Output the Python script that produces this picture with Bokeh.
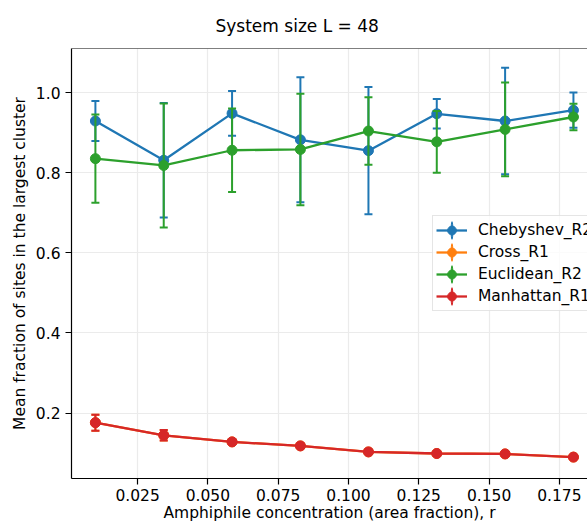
from bokeh.plotting import figure
from bokeh.models import Range1d, FixedTicker, Span, Legend, LegendItem, ColumnDataSource, PrintfTickFormatter
from bokeh.embed import file_html
from bokeh.resources import INLINE

# ---- data ----
conc = [0.0100, 0.0343, 0.0586, 0.0829, 0.1071, 0.1314, 0.1557, 0.1800]
series_names = ["Chebyshev_R2", "Cross_R1", "Euclidean_R2", "Manhattan_R1"]
cheb_mean = [0.929, 0.831, 0.948, 0.882, 0.855, 0.947, 0.929, 0.956]
cheb_err = [0.050, 0.143, 0.056, 0.156, 0.159, 0.037, 0.133, 0.044]
cross_mean = [0.176, 0.1445, 0.128, 0.118, 0.103, 0.099, 0.098, 0.090]
cross_err = [0.020, 0.013, 0.004, 0.004, 0.003, 0.003, 0.003, 0.003]
eucl_mean = [0.835, 0.818, 0.856, 0.858, 0.904, 0.877, 0.908, 0.939]
eucl_err = [0.110, 0.155, 0.104, 0.139, 0.084, 0.077, 0.117, 0.033]
manh_mean = [0.176, 0.1445, 0.128, 0.118, 0.103, 0.099, 0.098, 0.090]
manh_err = [0.020, 0.013, 0.004, 0.004, 0.003, 0.003, 0.003, 0.003]
x_ticks = [0.025, 0.050, 0.075, 0.100, 0.125, 0.150, 0.175]
y_ticks = [0.2, 0.4, 0.6, 0.8, 1.0]
title_text = "System size L = 48"
x_label = "Amphiphile concentration (area fraction), r"
y_label = "Mean fraction of sites in the largest cluster"

colors = ["#1f77b4", "#ff7f0e", "#2ca02c", "#d62728"]
means = [cheb_mean, cross_mean, eucl_mean, manh_mean]
errs = [cheb_err, cross_err, eucl_err, manh_err]

FONT = "DejaVu Sans"
X0, X1 = 0.0015, 0.1850
Y0, Y1 = 0.0366, 1.110

p = figure(width=587, height=525, output_backend="svg", toolbar_location=None,
           x_range=Range1d(X0, X1), y_range=Range1d(Y0, Y1),
           min_border_left=71, min_border_right=0, min_border_top=48, min_border_bottom=47)
p.outline_line_color = None
p.background_fill_color = "white"
p.border_fill_color = "white"

p.title.text = title_text
p.title.align = "left"
p.title.offset = 144
p.title.text_font = FONT
p.title.text_font_size = "17px"
p.title.text_font_style = "normal"
p.title.text_color = "black"
p.title.vertical_align = "middle"
p.title.standoff = 24

for ax in (p.xaxis[0], p.yaxis[0]):
    ax.axis_line_color = "black"
    ax.axis_line_width = 1.2
    ax.major_tick_line_color = "black"
    ax.major_tick_line_width = 1.2
    ax.major_tick_out = 6
    ax.major_tick_in = 0
    ax.minor_tick_line_color = None
    ax.major_label_text_font = FONT
    ax.major_label_text_font_size = "15.5px"
    ax.major_label_text_color = "black"
    ax.major_label_standoff = 5
    ax.axis_label_text_font = FONT
    ax.axis_label_text_font_size = "15.5px"
    ax.axis_label_text_font_style = "normal"
    ax.axis_label_text_color = "black"

p.xaxis[0].ticker = FixedTicker(ticks=x_ticks)
p.xaxis[0].formatter = PrintfTickFormatter(format="%.3f")
p.xaxis[0].axis_label = x_label
p.xaxis[0].axis_label_standoff = 0
p.xaxis[0].major_label_standoff = 4
p.yaxis[0].ticker = FixedTicker(ticks=y_ticks)
p.yaxis[0].formatter = PrintfTickFormatter(format="%.1f")
p.yaxis[0].axis_label = y_label
p.yaxis[0].axis_label_standoff = 4

p.grid.grid_line_color = "#ebebeb"
p.grid.grid_line_width = 1.2

# top spine
p.add_layout(Span(location=Y1, dimension="width", line_color="black", line_width=1.2))

items = []
for name, c, m, e in zip(series_names, colors, means, errs):
    lo = [a - b for a, b in zip(m, e)]
    hi = [a + b for a, b in zip(m, e)]
    src = ColumnDataSource(dict(x=conc, m=m, lo=lo, hi=hi))
    p.segment(x0="x", y0="lo", x1="x", y1="hi", source=src, line_color=c, line_width=2)
    p.scatter("x", "lo", source=src, marker="dash", size=8, line_color=c, line_width=2)
    p.scatter("x", "hi", source=src, marker="dash", size=8, line_color=c, line_width=2)
    ln = p.line("x", "m", source=src, line_color=c, line_width=2.3)
    mk = p.scatter("x", "m", source=src, marker="circle", size=10, fill_color=c, line_color=c)
    # legend-only vertical error-bar handle
    vbar = p.ellipse(x=[float("nan")], y=[float("nan")], width=2, height=20,
                     width_units="screen", height_units="screen",
                     fill_color=c, line_color=c, line_width=1)
    items.append(LegendItem(label=name, renderers=[ln, vbar, mk]))

legend = Legend(items=items, location=(361, 167),
                label_text_font=FONT, label_text_font_size="15.5px", label_text_color="black",
                glyph_width=31, glyph_height=22, label_height=22, spacing=0, padding=3,
                label_standoff=11, margin=0,
                border_line_color="#cccccc", border_line_width=1,
                background_fill_color="white", background_fill_alpha=0.8)
p.add_layout(legend)

open("out.html", "w").write(file_html(p, INLINE))
